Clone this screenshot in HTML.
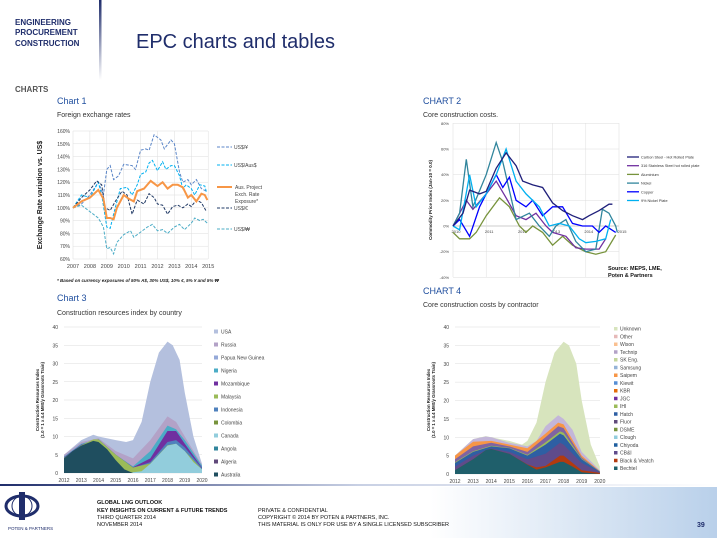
<!DOCTYPE html>
<html><head><meta charset="utf-8"><style>
html,body{margin:0;padding:0;background:#fff}
svg{display:block;font-family:"Liberation Sans",sans-serif}
</style></head><body>
<svg id="s" width="717" height="538" viewBox="0 0 717 538" xmlns="http://www.w3.org/2000/svg">
<defs>
<linearGradient id="vb" x1="0" y1="0" x2="0" y2="1"><stop offset="0" stop-color="#1f2d6b"/><stop offset="1" stop-color="#fff"/></linearGradient>
<linearGradient id="hb" x1="0" y1="0" x2="1" y2="0"><stop offset="0" stop-color="#1f2d6b"/><stop offset="0.5" stop-color="#c8d0e4"/><stop offset="1" stop-color="#fff"/></linearGradient>
<linearGradient id="fb" x1="0" y1="0" x2="1" y2="0"><stop offset="0" stop-color="#fff"/><stop offset="0.6" stop-color="#fff"/><stop offset="1" stop-color="#b9d0ea"/></linearGradient>
</defs>
<rect x="99" y="0" width="2.5" height="80" fill="url(#vb)"/>
<g fill="#1f2d6b" font-weight="bold" font-size="8"><text x="15" y="25">ENGINEERING</text><text x="15" y="35">PROCUREMENT</text><text x="15" y="46">CONSTRUCTION</text></g>
<text x="136" y="48" font-size="20" fill="#1f2d6b">EPC charts and tables</text>
<text x="15" y="92" font-size="8" font-weight="bold" fill="#555">CHARTS</text>
<text x="57" y="104" font-size="9" fill="#1f4e9e">Chart 1</text>
<text x="57" y="117" font-size="7" fill="#333">Foreign exchange rates</text>
<text x="423" y="104" font-size="9" fill="#1f4e9e">CHART 2</text>
<text x="423" y="117" font-size="7" fill="#333">Core construction costs.</text>
<text x="57" y="301" font-size="9" fill="#1f4e9e">Chart 3</text>
<text x="57" y="315" font-size="7" fill="#333">Construction resources index by country</text>
<text x="423" y="294" font-size="9" fill="#1f4e9e">CHART 4</text>
<text x="423" y="307" font-size="7" fill="#333">Core construction costs by contractor</text>
<g id="g"></g>
<rect x="0" y="487" width="717" height="51" fill="url(#fb)"/>
<rect x="0" y="484" width="717" height="2" fill="url(#hb)"/>
<ellipse cx="22" cy="506" rx="16" ry="10" fill="none" stroke="#1f2d6b" stroke-width="3"/>
<ellipse cx="22" cy="506" rx="10" ry="10" fill="none" stroke="#1f2d6b" stroke-width="1"/>
<rect x="19" y="492" width="6" height="28" fill="#1f2d6b"/>
<text x="8" y="530" font-size="4.5" fill="#1f2d6b">POTEN &amp; PARTNERS</text>
<g font-size="5.5" fill="#111"><text x="97" y="504" font-weight="bold">GLOBAL LNG OUTLOOK</text><text x="97" y="512" font-weight="bold">KEY INSIGHTS ON CURRENT &amp; FUTURE TRENDS</text><text x="97" y="519">THIRD QUARTER 2014</text><text x="97" y="526">NOVEMBER 2014</text>
<text x="258" y="512">PRIVATE &amp; CONFIDENTIAL</text><text x="258" y="519">COPYRIGHT © 2014 BY POTEN &amp; PARTNERS, INC.</text><text x="258" y="526">THIS MATERIAL IS ONLY FOR USE BY A SINGLE LICENSED SUBSCRIBER</text></g>
<text x="697" y="527" font-size="7" font-weight="bold" fill="#1f2d6b">39</text>
</svg>
<script>
var G=document.getElementById('g'),h='';
function P(pts,fx,fy){return pts.map(function(p){return fx(p[0]).toFixed(1)+','+fy(p[1]).toFixed(1)}).join(' ')}
function pr(a){var r=[];for(var i=0;i<a.length;i+=2)r.push([a[i],a[i+1]]);return r}
// Chart 1
var x1=function(t){return 73+(t-2007)*16.9},y1=function(v){return 259-(v-60)*1.28};
for(var v=60;v<=160;v+=10){h+='<line x1="73" x2="208" y1="'+y1(v)+'" y2="'+y1(v)+'" stroke="#ddd" stroke-width="0.5"/><text x="70" y="'+(y1(v)+2)+'" font-size="5" fill="#444" text-anchor="end">'+v+'%</text>';}
for(var t=2007;t<=2015;t++){h+='<line y1="131" y2="259" x1="'+x1(t)+'" x2="'+x1(t)+'" stroke="#ddd" stroke-width="0.5"/><text x="'+x1(t)+'" y="268" font-size="5.5" fill="#444" text-anchor="middle">'+t+'</text>';}
h+='<text transform="translate(42,195) rotate(-90)" font-size="7" font-weight="bold" text-anchor="middle" fill="#222">Exchange Rate variation vs. US$</text>';
var s1=[
['#5b86c8',pr([2007,100,2007.5,103,2008,110,2008.5,120,2008.8,110,2009,130,2009.2,133,2009.4,122,2009.7,125,2010,134,2010.5,133,2010.7,130,2011,145,2011.3,146,2011.5,145,2011.8,157,2012.2,153,2012.4,146,2012.8,153,2013,150,2013.3,128,2013.5,120,2013.8,122,2014,118,2014.3,122,2014.6,115,2014.9,113]),1,'3,1.5'],
['#00b0f0',pr([2007,100,2007.5,110,2008,108,2008.5,120,2008.7,110,2009,85,2009.2,84,2009.4,95,2009.8,115,2010.2,116,2010.5,110,2010.8,118,2011,126,2011.3,128,2011.5,135,2011.7,137,2012,129,2012.3,136,2012.5,130,2012.8,133,2013,133,2013.3,125,2013.5,115,2013.7,118,2014,115,2014.2,110,2014.5,118,2014.8,117,2014.9,112]),1,'3,1.5'],
['#1f3864',pr([2007,100,2007.5,108,2008,114,2008.4,121,2008.7,118,2008.9,100,2009.2,98,2009.5,105,2009.9,113,2010.2,110,2010.5,95,2010.8,106,2011.2,103,2011.5,111,2011.8,108,2012,103,2012.3,102,2012.6,95,2012.9,101,2013.2,102,2013.5,100,2013.8,103,2014,101,2014.3,106,2014.6,104,2014.9,97]),1,'3,1.5'],
['#4bacc6',pr([2007,100,2007.5,102,2008,97,2008.5,92,2008.8,85,2009,68,2009.2,69,2009.4,64,2009.6,73,2010,79,2010.4,82,2010.6,77,2011,81,2011.4,85,2011.7,87,2012,82,2012.3,83,2012.6,80,2013,85,2013.3,87,2013.6,83,2014,88,2014.2,92,2014.5,90,2014.7,91,2014.95,88]),1,'3,1.5'],
['#f79646',pr([2007,100,2007.5,105,2008,108,2008.5,114,2008.8,107,2009,92,2009.2,92,2009.4,91,2009.6,100,2010,110,2010.3,107,2010.6,105,2010.8,113,2011.2,115,2011.6,121,2012,117,2012.3,120,2012.6,115,2012.9,118,2013.2,118,2013.5,116,2013.8,108,2014,110,2014.3,105,2014.6,111,2014.8,110,2014.95,106]),2,'']];
s1.forEach(function(s){h+='<polyline fill="none" stroke="'+s[0]+'" stroke-width="'+s[2]+'" stroke-dasharray="'+s[3]+'" points="'+P(s[1],x1,y1)+'"/>'});
var l1=[[147,'#5b86c8','US$/¥'],[165,'#00b0f0','US$/Aus$'],[208,'#1f3864','US$/€'],[229,'#4bacc6','US$/₩']];
l1.forEach(function(l){h+='<line x1="217" x2="232" y1="'+l[0]+'" y2="'+l[0]+'" stroke="'+l[1]+'" stroke-dasharray="3,1.5"/><text x="234" y="'+(l[0]+2)+'" font-size="5" fill="#444">'+l[2]+'</text>'});
h+='<line x1="217" x2="232" y1="187" y2="187" stroke="#f79646" stroke-width="2"/><text font-size="5" fill="#444"><tspan x="235" y="189">Aus. Project</tspan><tspan x="235" y="196">Exch. Rate</tspan><tspan x="235" y="203">Exposure*</tspan></text>';
h+='<text x="57" y="282" font-size="4.5" font-style="italic" font-weight="bold" fill="#222">*  Based on currency exposures of 50% A$, 30% US$, 10% €, 5% ¥ and 5% ₩</text>';
// Chart 2
var x2=function(t){return 453+(t-2010)*33.2},y2=function(v){return 226-v*1.283};
for(var v=-40;v<=80;v+=20){h+='<line x1="453" x2="619" y1="'+y2(v)+'" y2="'+y2(v)+'" stroke="'+(v==0?'#999':'#ddd')+'" stroke-width="0.5"/><text x="449" y="'+(y2(v)+1.5)+'" font-size="4" fill="#444" text-anchor="end">'+v+'%</text>';}
for(var t=2010;t<=2015;t++){h+='<line y1="123" y2="277" x1="'+x2(t)+'" x2="'+x2(t)+'" stroke="#ddd" stroke-width="0.5"/><text x="'+(x2(t)+3)+'" y="233" font-size="4" fill="#444" text-anchor="middle">'+t+'</text>';}
h+='<text transform="translate(432,200) rotate(-90)" font-size="4.5" font-weight="bold" text-anchor="middle" fill="#222">Commodity Price Index (Jan-10 = 0.0)</text>';
var s2=[
['#77933c',pr([2010,-5,2010.2,-10,2010.5,-10,2010.7,-5,2011,8,2011.4,22,2011.7,15,2012,0,2012.2,-5,2012.4,0,2012.7,-5,2013,-15,2013.3,-8,2013.6,-15,2014,-20,2014.3,-22,2014.6,-20,2014.9,-7])],
['#7030a0',pr([2010,0,2010.4,20,2010.6,13,2011,25,2011.3,35,2011.6,22,2011.9,8,2012.2,5,2012.5,10,2012.8,0,2013,-5,2013.4,-8,2013.7,-17,2014,-18,2014.4,-18,2014.6,-10])],
['#31859c',pr([2010,0,2010.2,10,2010.4,52,2010.6,15,2011,40,2011.3,65,2011.5,50,2011.9,5,2012.3,10,2012.6,0,2012.9,-8,2013.1,0,2013.4,5,2013.7,-12,2014,-20,2014.3,-18,2014.5,13,2014.7,10,2014.9,0,2014.95,-5])],
['#0000ff',pr([2010,0,2010.2,5,2010.5,-8,2010.8,15,2011,25,2011.3,40,2011.5,30,2011.7,38,2011.9,20,2012.2,15,2012.4,20,2012.7,8,2013,15,2013.3,15,2013.6,2,2013.9,0,2014.2,0,2014.4,-5,2014.6,0,2014.9,-5])],
['#00b0f0',pr([2010,0,2010.2,-3,2010.5,40,2010.7,15,2011,25,2011.3,40,2011.6,60,2011.9,35,2012.2,25,2012.6,15,2012.9,0,2013.2,2,2013.5,0,2013.8,-10,2014,-13,2014.3,-12,2014.6,-10,2014.75,5])],
['#1f1f7a',pr([2010,0,2010.3,10,2010.5,28,2010.8,25,2011,27,2011.3,45,2011.6,57,2011.9,47,2012.1,35,2012.4,32,2012.7,30,2013,18,2013.3,12,2013.6,8,2013.9,5,2014.1,8,2014.4,12,2014.7,17,2014.8,17])]];
s2.forEach(function(s){h+='<polyline fill="none" stroke="'+s[0]+'" stroke-width="1.3" points="'+P(s[1],x2,y2)+'"/>'});
var l2=[['#1f1f7a','Carbon Steel - Hot Rolled Plate'],['#7030a0','316 Stainless Steel hot rolled plate'],['#77933c','Aluminium'],['#31859c','Nickel'],['#0000ff','Copper'],['#00b0f0','9% Nickel Plate']];
l2.forEach(function(l,i){var y=157+i*8.7;h+='<line x1="627" x2="639" y1="'+y+'" y2="'+y+'" stroke="'+l[0]+'" stroke-width="1.3"/><text x="641" y="'+(y+1.5)+'" font-size="3.8" fill="#333">'+l[1]+'</text>'});
h+='<text font-size="5.5" font-weight="bold" fill="#111"><tspan x="608" y="270">Source: MEPS, LME,</tspan><tspan x="608" y="277">Poten &amp; Partners</tspan></text>';
// Stacked area helpers
function area(pts,fx,fy,col,base){var b=base||0;return '<polygon fill="'+col+'" points="'+P(pts,fx,fy)+' '+fx(pts[pts.length-1][0])+','+fy(b)+' '+fx(pts[0][0])+','+fy(b)+'"/>'}
function axes(x0,x1,fx,fy,ylab){var o='';for(var v=0;v<=40;v+=5){o+='<line x1="'+x0+'" x2="'+x1+'" y1="'+fy(v)+'" y2="'+fy(v)+'" stroke="#ddd" stroke-width="0.5"/><text x="'+(x0-6)+'" y="'+(fy(v)+2)+'" font-size="5" fill="#444" text-anchor="end">'+v+'</text>';}
for(var t=2012;t<=2020;t++)o+='<text x="'+fx(t)+'" y="'+(fy(0)+9)+'" font-size="5" fill="#444" text-anchor="middle">'+t+'</text>';return o}
// Chart 3
var x3=function(t){return 64+(t-2012)*17.25},y3=function(v){return 473-v*3.65};
h+=axes(64,202,x3,y3);
h+='<text transform="translate(39,400) rotate(-90)" font-size="4.3" font-weight="bold" text-anchor="middle" fill="#222"><tspan x="0" y="0">Construction Resources Index</tspan><tspan x="0" y="5">(1.0 = 1 x 4.4 MMt/y Grassroots Train)</tspan></text>';
var A3=[
['#b4c0de',pr([2012,5,2013,9,2013.7,10.5,2014,10,2015,9,2015.6,8.5,2016,9,2016.5,14,2017,25,2017.5,33,2018,36,2018.3,35,2018.7,31,2019,22,2019.5,10,2020,2.5])],
['#b3a2c7',pr([2012,5,2013,8.5,2014,9.5,2015,6,2016,4,2017,9,2018,15.5,2018.5,14,2019,10,2020,2.2])],
['#4bacc6',pr([2012,4.5,2013,8,2014,9.3,2015,5,2016,1.8,2017,6,2018,13,2018.5,12,2019,9,2020,2])],
['#7030a0',pr([2012,4.3,2013,7.8,2014,9.2,2015,5,2016,1.6,2017,4,2018,11.5,2018.5,11.5,2019,8,2020,1.5])],
['#4f81bd',pr([2012,4.2,2013,7.7,2014,9.2,2015,5,2016,1.4,2017,3,2018,8.5,2018.5,9,2019,7,2020,1.3])],
['#9bbb59',pr([2012,4.1,2013,7.6,2013.7,9.2,2014,9.2,2015,5,2016,1.5,2017,2.6,2018,7.6,2018.5,8,2019,6,2020,1])],
['#92cddc',pr([2012,0,2015.8,0,2016,0.2,2016.5,0.5,2017,2.5,2017.5,5,2018,7.5,2018.5,8,2019,6,2019.5,3,2020,1])],
['#1f4e5f',pr([2012,4,2012.5,6,2013,7.5,2013.7,8.8,2014,8.5,2014.5,6.5,2015,3.5,2015.5,1,2016,0,2020,0])]];
A3.forEach(function(a){h+=area(a[1],x3,y3,a[0])});
var l3=[['#b4c0de','USA'],['#b3a2c7','Russia'],['#95a9d8','Papua New Guinea'],['#4bacc6','Nigeria'],['#7030a0','Mozambique'],['#9bbb59','Malaysia'],['#4f81bd','Indonesia'],['#77933c','Colombia'],['#92cddc','Canada'],['#31859c','Angola'],['#60497a','Algeria'],['#1f4e5f','Australia']];
l3.forEach(function(l,i){var y=332+i*13;h+='<rect x="214" y="'+(y-2.5)+'" width="4" height="4" fill="'+l[0]+'"/><text x="221" y="'+(y+1.5)+'" font-size="5" fill="#444">'+l[1]+'</text>'});
// Chart 4
var x4=function(t){return 455+(t-2012)*18.1},y4=function(v){return 474-v*3.675};
h+=axes(455,600,x4,y4);
h+='<text transform="translate(430,400) rotate(-90)" font-size="4.3" font-weight="bold" text-anchor="middle" fill="#222"><tspan x="0" y="0">Construction Resources Index</tspan><tspan x="0" y="5">(1.0 = 1 x 4.4 MMt/y Grassroots Train)</tspan></text>';
var A4=[
['#d7e4bd',pr([2012,5,2013,9.5,2013.7,10.3,2014,10,2015,9,2015.7,8,2016,9,2016.5,14,2017,25,2017.5,33,2018,36,2018.3,35,2018.7,30,2019,20,2019.5,8,2020,2])],
['#c3b6d9',pr([2012,5,2013,9.5,2013.7,10.2,2014,10,2015,8.5,2016,7.5,2016.5,9,2017,13,2017.7,16,2018,15,2018.5,12,2019,6,2020,1])],
['#f79646',pr([2012,5,2013,8.8,2014,9,2015,8,2016,7,2017,11,2017.7,14,2018,13.5,2019,5,2020,0.8])],
['#8064a2',pr([2012,4,2013,7.5,2014,8.5,2015,7.5,2016,6,2017,10,2017.7,13,2018,12.5,2019,4.5,2020,0.7])],
['#9bbb59',pr([2012,3.2,2013,6.2,2014,7.7,2015,7.1,2016,5.2,2017,8.6,2017.8,11.6,2018,11.2,2019,4.2,2020,0.65])],
['#2e5fa3',pr([2012,3,2013,6,2014,7.5,2015,7,2016,5,2017,8,2017.8,11,2018,10.5,2019,4,2020,0.6])],
['#5f4b8b',pr([2012,2,2013,5,2014,7,2015,6,2016,4,2017,5.5,2017.8,8.5,2018,8,2019,3,2020,0.5])],
['#b33a0f',pr([2012,1,2013,4,2013.7,6.5,2014,6.8,2015,5.5,2016,2.6,2016.5,1.8,2017,2.2,2017.8,5,2018,5,2018.5,3,2019,1,2020,0.3])],
['#1f5f6b',pr([2012,1,2013,4,2013.7,6.5,2014,6.8,2015,5.5,2016,2.5,2016.5,1.2,2017,1.8,2017.8,3.3,2018,3.3,2018.5,2,2019,0.5,2020,0])]];
A4.forEach(function(a){h+=area(a[1],x4,y4,a[0])});
var l4=[['#d7e4bd','Unknown'],['#e6b9b8','Other'],['#fac090','Wison'],['#b3a2c7','Technip'],['#c3d69b','SK Eng.'],['#95b3d7','Samsung'],['#f79646','Saipem'],['#558ed5','Kiewit'],['#e46c0a','KBR'],['#7030a0','JGC'],['#9bbb59','IHI'],['#2e5fa3','Hatch'],['#604a7b','Fluor'],['#77933c','DSME'],['#93cddd','Clough'],['#1f5f9f','Chiyoda'],['#5f4b8b','CB&amp;I'],['#b33a0f','Black &amp; Veatch'],['#1f5f6b','Bechtel']];
l4.forEach(function(l,i){var y=329+i*7.75;h+='<rect x="614" y="'+(y-2)+'" width="3.5" height="3.5" fill="'+l[0]+'"/><text x="620" y="'+(y+1.5)+'" font-size="5" fill="#444">'+l[1]+'</text>'});
G.innerHTML=h;
</script>
</body></html>
